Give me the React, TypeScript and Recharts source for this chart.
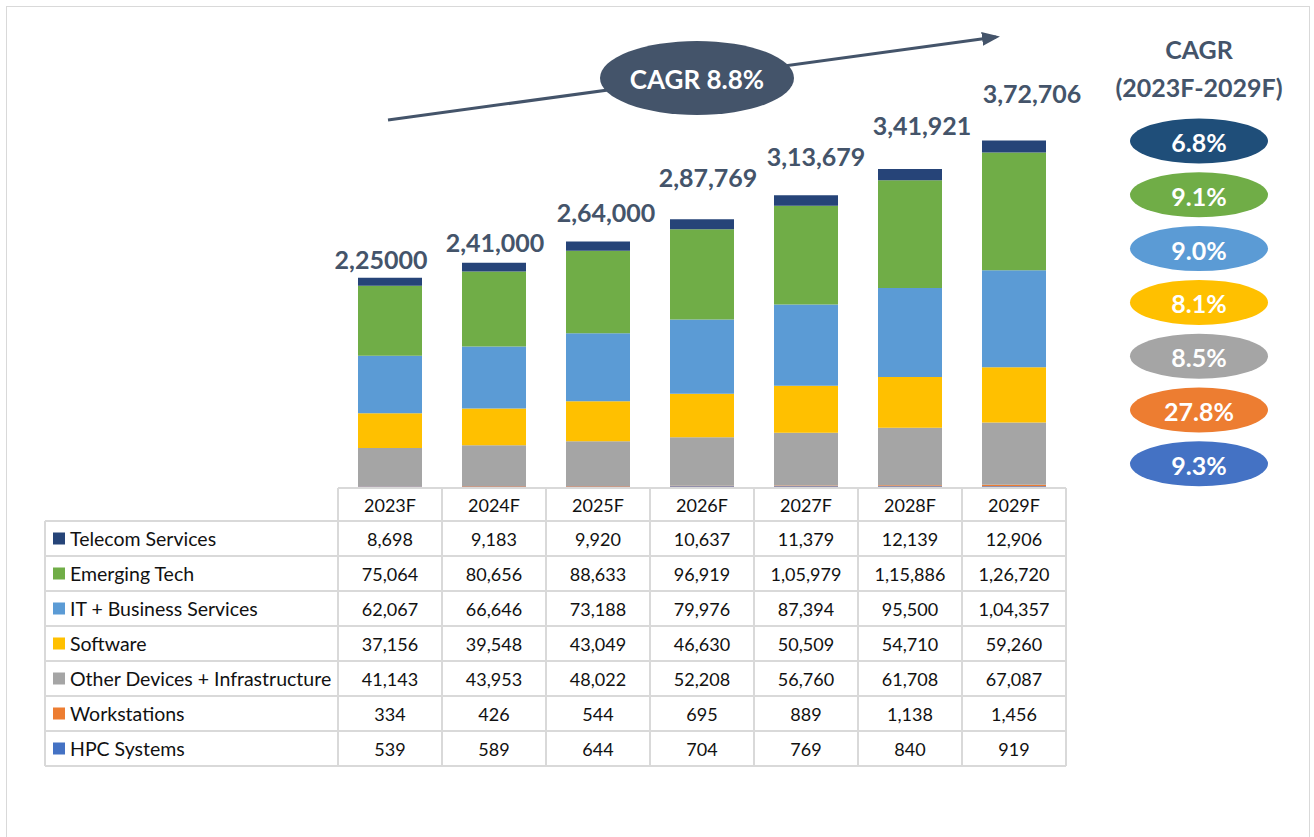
import React from "react";
import { BarChart, Bar, XAxis, YAxis, LabelList } from "recharts";

// categories + series values
const categories = ["2023F", "2024F", "2025F", "2026F", "2027F", "2028F", "2029F"];
const telecom = [8698, 9183, 9920, 10637, 11379, 12139, 12906];
const emergingTech = [75064, 80656, 88633, 96919, 105979, 115886, 126720];
const itBusiness = [62067, 66646, 73188, 79976, 87394, 95500, 104357];
const software = [37156, 39548, 43049, 46630, 50509, 54710, 59260];
const otherDevices = [41143, 43953, 48022, 52208, 56760, 61708, 67087];
const workstations = [334, 426, 544, 695, 889, 1138, 1456];
const hpcSystems = [539, 589, 644, 704, 769, 840, 919];

// labels printed above each bar (as in the source, incl. "2,25000")
const totalLabels = ["2,25000", "2,41,000", "2,64,000", "2,87,769", "3,13,679", "3,41,921", "3,72,706"];

// CAGR 2023F-2029F per series, top to bottom
const cagrLabels = ["6.8%", "9.1%", "9.0%", "8.1%", "8.5%", "27.8%", "9.3%"];
const overallCagr = "CAGR 8.8%";

// table / legend order (top to bottom)
const SERIES = [
  { key: "telecom", name: "Telecom Services", values: telecom, color: "#264478" },
  { key: "emerging", name: "Emerging Tech", values: emergingTech, color: "#70AD47" },
  { key: "it", name: "IT + Business Services", values: itBusiness, color: "#5B9BD5" },
  { key: "software", name: "Software", values: software, color: "#FFC000" },
  { key: "other", name: "Other Devices + Infrastructure", values: otherDevices, color: "#A5A5A5" },
  { key: "workstations", name: "Workstations", values: workstations, color: "#ED7D31" },
  { key: "hpc", name: "HPC Systems", values: hpcSystems, color: "#4472C4" },
];
const cagrColors = ["#1F4E79", "#70AD47", "#5B9BD5", "#FFC000", "#A5A5A5", "#ED7D31", "#4472C4"];

// the total labels were hand-placed text boxes: nudge from bar top-centre
const LABEL_NUDGE: [number, number][] = [
  [-9, -19], [1, -21], [8, -29], [6, -42], [10, -39], [12, -44], [18, -47],
];

const chartData = categories.map((name, i) => {
  const row: Record<string, string | number> = { name };
  SERIES.forEach((s) => (row[s.key] = s.values[i]));
  return row;
});

// indian style grouping: 1,05,979
function fmt(n: number) {
  const s = String(n);
  if (s.length <= 3) return s;
  const last3 = s.slice(-3);
  let rest = s.slice(0, -3);
  const parts: string[] = [];
  while (rest.length > 2) {
    parts.unshift(rest.slice(-2));
    rest = rest.slice(0, -2);
  }
  if (rest) parts.unshift(rest);
  return parts.join(",") + "," + last3;
}

const W = 1314;
const H = 837;
const PLOT_LEFT = 338;
const BAND = 104;
const PLOT_RIGHT = PLOT_LEFT + BAND * categories.length;
const BASE_Y = 487;
const PLOT_TOP = 115;
const TABLE_LEFT = 45;
const HEADER_TOP = 488;
const ROW_H = 35;
const FIRST_ROW = 521;
const FONT = "Lato, 'Open Sans', sans-serif";
const SLATE = "#44546A";
const GRID = "#D9D9D9";

const TotalLabel = (props: any) => {
  const { x, y, width, index } = props;
  const [dx, dy] = LABEL_NUDGE[index] || [0, -20];
  return (
    <text
      x={x + width / 2 + dx}
      y={y + dy}
      textAnchor="middle"
      dominantBaseline="central"
      fontFamily={FONT}
      fontWeight={700}
      fontSize={25}
      fill={SLATE}
    >
      {totalLabels[index]}
    </text>
  );
};

function Overlay() {
  const tableBottom = FIRST_ROW + ROW_H * SERIES.length;
  return (
    <svg width={W} height={H} style={{ position: "absolute", left: 0, top: 0, pointerEvents: "none" }}>
      <defs>
        <marker id="arrow" markerWidth="18" markerHeight="14" refX="14" refY="7" orient="auto" markerUnits="userSpaceOnUse">
          <path d="M0,0 L18,7 L0,14 z" fill={SLATE} />
        </marker>
      </defs>
      <rect x={6.5} y={6.5} width={1303} height={860} fill="none" stroke={GRID} strokeWidth={1} />

      {/* overall growth arrow */}
      <line x1={388} y1={120} x2={996} y2={37} stroke={SLATE} strokeWidth={3} markerEnd="url(#arrow)" />
      <ellipse cx={697} cy={78} rx={97} ry={37} fill={SLATE} />
      <text x={697} y={79} textAnchor="middle" dominantBaseline="central" fontFamily={FONT} fontWeight={700} fontSize={26} fill="#fff">
        {overallCagr}
      </text>

      {/* right CAGR column */}
      <text x={1199} y={49} textAnchor="middle" dominantBaseline="central" fontFamily={FONT} fontWeight={700} fontSize={25} fill={SLATE}>
        CAGR
      </text>
      <text x={1199} y={87} textAnchor="middle" dominantBaseline="central" fontFamily={FONT} fontWeight={700} fontSize={25} fill={SLATE}>
        (2023F-2029F)
      </text>
      {cagrLabels.map((c, i) => (
        <g key={c + i}>
          <ellipse cx={1199} cy={141 + i * 53.8} rx={69} ry={22.5} fill={cagrColors[i]} />
          <text x={1199} y={142 + i * 53.8} textAnchor="middle" dominantBaseline="central" fontFamily={FONT} fontWeight={700} fontSize={25} fill="#fff">
            {c}
          </text>
        </g>
      ))}

      {/* data table */}
      <g stroke={GRID} strokeWidth={2}>
        <line x1={PLOT_LEFT} y1={HEADER_TOP} x2={PLOT_RIGHT} y2={HEADER_TOP} />
        {SERIES.map((_, i) => (
          <line key={"h" + i} x1={TABLE_LEFT} y1={FIRST_ROW + i * ROW_H} x2={PLOT_RIGHT} y2={FIRST_ROW + i * ROW_H} />
        ))}
        <line x1={TABLE_LEFT} y1={tableBottom} x2={PLOT_RIGHT} y2={tableBottom} />
        <line x1={TABLE_LEFT} y1={FIRST_ROW} x2={TABLE_LEFT} y2={tableBottom} />
        {categories.map((_, i) => (
          <line key={"v" + i} x1={PLOT_LEFT + i * BAND} y1={HEADER_TOP} x2={PLOT_LEFT + i * BAND} y2={tableBottom} />
        ))}
        <line x1={PLOT_RIGHT} y1={HEADER_TOP} x2={PLOT_RIGHT} y2={tableBottom} />
      </g>
      {categories.map((c, i) => (
        <text key={c} x={PLOT_LEFT + i * BAND + BAND / 2} y={505} textAnchor="middle" dominantBaseline="central" fontFamily={FONT} fontSize={18} fill="#111">
          {c}
        </text>
      ))}
      {SERIES.map((s, r) => {
        const cy = FIRST_ROW + r * ROW_H + ROW_H / 2;
        return (
          <g key={s.key}>
            <rect x={53} y={cy - 6} width={12} height={12} fill={s.color} />
            <text x={70} y={cy} dominantBaseline="central" fontFamily={FONT} fontSize={19.5} fill="#111">
              {s.name}
            </text>
            {s.values.map((v, i) => (
              <text key={i} x={PLOT_LEFT + i * BAND + BAND / 2} y={cy} textAnchor="middle" dominantBaseline="central" fontFamily={FONT} fontSize={18} fill="#111">
                {fmt(v)}
              </text>
            ))}
          </g>
        );
      })}
    </svg>
  );
}

export default function App() {
  // stacking order: bottom first
  const stack = [...SERIES].reverse();
  return (
    <div style={{ position: "absolute", left: 0, top: 0, width: W, height: H, background: "#fff" }}>
      <BarChart
        width={W}
        height={H}
        data={chartData}
        margin={{ top: PLOT_TOP, right: W - PLOT_RIGHT, bottom: H - BASE_Y, left: PLOT_LEFT }}
        barSize={64}
      >
        <XAxis dataKey="name" hide />
        <YAxis hide domain={[0, 400000]} />
        {stack.map((s, idx) => (
          <Bar key={s.key} dataKey={s.key} stackId="a" fill={s.color} isAnimationActive={false}>
            {idx === stack.length - 1 && <LabelList dataKey={s.key} content={TotalLabel} />}
          </Bar>
        ))}
      </BarChart>
      <Overlay />
    </div>
  );
}
